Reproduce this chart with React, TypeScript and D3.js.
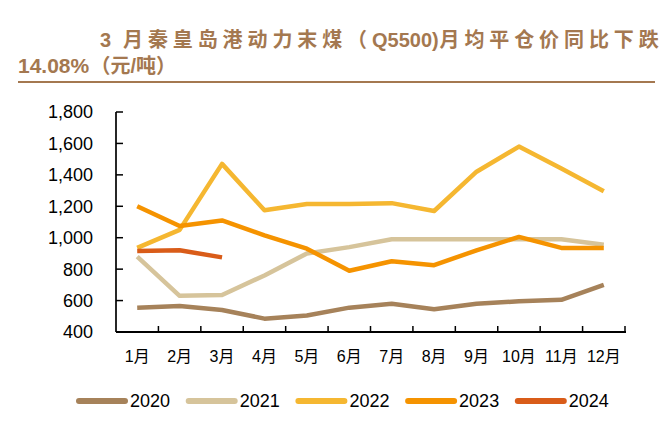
import React from "react";
import * as d3 from "d3";

const months = ["1月", "2月", "3月", "4月", "5月", "6月", "7月", "8月", "9月", "10月", "11月", "12月"];
const yTicks = [400, 600, 800, 1000, 1200, 1400, 1600, 1800];

const s2020 = [555, 565, 540, 485, 505, 555, 580, 545, 580, 595, 605, 700];
const s2021 = [880, 630, 635, 760, 900, 940, 990, 990, 990, 990, 990, 955];
const s2022 = [935, 1050, 1470, 1175, 1215, 1215, 1220, 1170, 1420, 1580, 1440, 1295];
const s2023 = [1200, 1075, 1110, 1015, 930, 790, 850, 825, 920, 1005, 935, 935];
const s2024 = [915, 920, 875];

const seriesNames = ["2020", "2021", "2022", "2023", "2024"];
const seriesValues = [s2020, s2021, s2022, s2023, s2024];
const colors = ["#a6825a", "#d6c49b", "#f5b731", "#f59300", "#d95c19"];

const titleA = "3";
const titleB = "月秦皇岛港动力末煤（";
const titleC = "Q5500)";
const titleD = "月均平仓价同比下跌";
const titleE = "14.08%";
const titleF1 = "（";
const titleF2 = "元/吨）";

export default function App() {
  const W = 663, H = 429;
  const x = d3.scaleBand<string>().domain(months).range([116, 625]);
  const y = d3.scaleLinear().domain([400, 1800]).range([332, 112]);
  const line = d3
    .line<number>()
    .x((_, i) => (x(months[i]) as number) + x.bandwidth() / 2)
    .y((d) => y(d));
  const fmt = d3.format(",");
  const titleColor = "#a47850";
  const font = "'Liberation Sans', Arial, 'Noto Sans CJK SC', sans-serif";
  const boundaries = months.map((m) => (x(m) as number) + x.bandwidth());

  const pitch = 24.9;
  const fs = 20;
  const bX = 123;
  const cX = bX + titleB.length * pitch;
  const dX = cX + 67.5;

  return (
    <svg width={W} height={H} style={{ position: "absolute", left: 0, top: 0, background: "#fff" }} fontFamily={font}>
      <g fontSize={fs} fontWeight="bold" fill={titleColor}>
        <text x={100} y={47}>{titleA}</text>
        <text x={bX} y={47} letterSpacing={pitch - fs}>{titleB}</text>
        <text x={cX} y={47}>{titleC}</text>
        <text x={dX} y={47} letterSpacing={pitch - fs}>{titleD}</text>
        <text x={18} y={73} fontSize={21}>{titleE}</text>
        <text x={90.5} y={73}>{titleF1}</text>
        <text x={110.5} y={73}>{titleF2}</text>
      </g>
      <line x1={18} x2={655} y1={82} y2={82} stroke={titleColor} strokeWidth={2} />

      {/* y axis */}
      <line x1={116} x2={116} y1={y(1800)} y2={y(400)} stroke="#000" strokeWidth={1.7} />
      {yTicks.map((t) => (
        <g key={t}>
          <line x1={116} x2={123} y1={y(t)} y2={y(t)} stroke="#000" strokeWidth={1.5} />
          <text x={93} y={y(t)} dy="0.36em" textAnchor="end" fontSize={18} fill="#000">
            {fmt(t)}
          </text>
        </g>
      ))}

      {/* x axis */}
      <line x1={116} x2={626} y1={332} y2={332} stroke="#000" strokeWidth={2} />
      {boundaries.map((bx, i) => (
        <line key={i} x1={bx} x2={bx} y1={332} y2={326} stroke="#000" strokeWidth={1.5} />
      ))}
      {months.map((m) => (
        <text key={m} x={(x(m) as number) + x.bandwidth() / 2} y={362} textAnchor="middle" fontSize={16} fill="#000">
          {m}
        </text>
      ))}

      {/* series */}
      {seriesValues.map((vals, i) => (
        <path key={i} d={line(vals) as string} fill="none" stroke={colors[i]} strokeWidth={4.5} strokeLinejoin="round" />
      ))}

      {/* legend */}
      {seriesNames.map((n, i) => {
        const lx = 77 + i * 109.7;
        return (
          <g key={n}>
            <line x1={lx + 2} x2={lx + 48} y1={401} y2={401} stroke={colors[i]} strokeWidth={6} strokeLinecap="round" />
            <text x={lx + 53} y={407} fontSize={18} fill="#000">
              {n}
            </text>
          </g>
        );
      })}
    </svg>
  );
}
